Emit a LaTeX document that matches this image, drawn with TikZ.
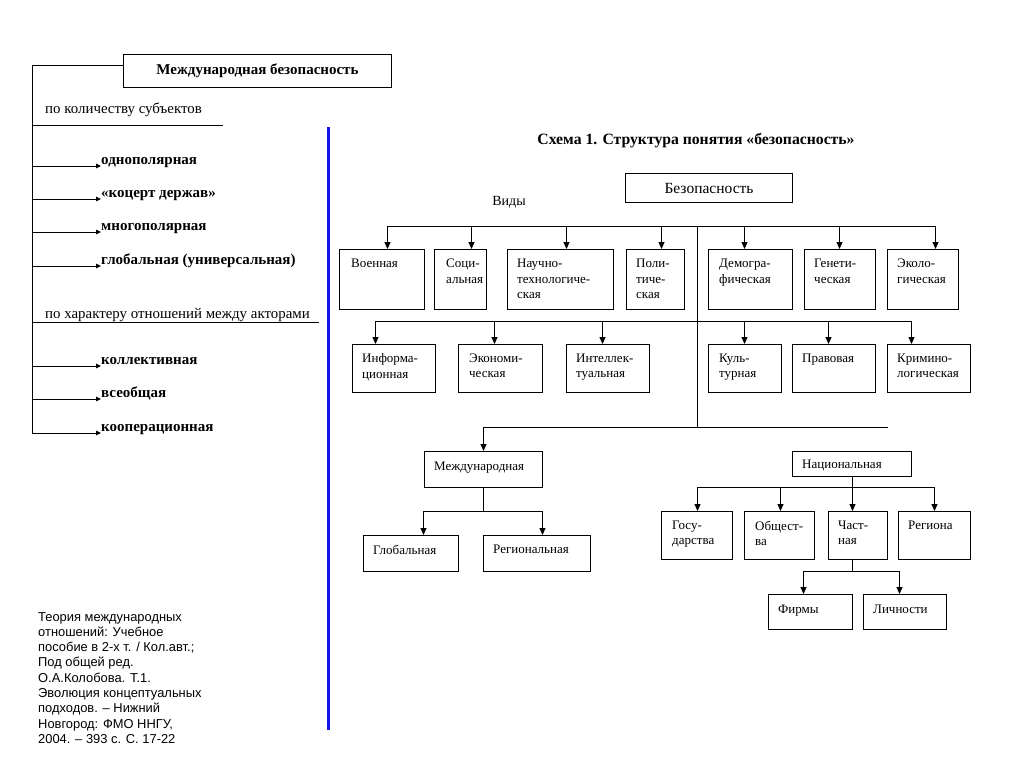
\documentclass[tikz,border=0pt]{standalone}
\usepackage{fontspec}
\setmainfont{Liberation Serif}
\newfontfamily\arialfont{Liberation Sans}
\usetikzlibrary{arrows.meta}
\definecolor{vblue}{RGB}{20,20,235}
\begin{document}
\begin{tikzpicture}[x=1pt,y=-1pt,
  ln/.style={draw=black, line width=1pt},
  bx/.style 2 args={draw=black, line width=1pt, inner sep=0pt, anchor=north west, minimum width=#1, minimum height=#2},
  txt/.style={anchor=north west, inner sep=0pt, align=left, font=\fontsize{13}{15.5}\selectfont},
  arr/.style={line width=1pt, -{Triangle[length=7pt,width=6pt]}},
  larr/.style={line width=1pt, -{Triangle[length=5pt,width=4.5pt]}},
  item/.style={anchor=base west, inner sep=0pt, font=\bfseries\fontsize{15}{17}\selectfont},
  cat/.style={anchor=base west, inner sep=0pt, font=\fontsize{14.9}{17}\selectfont},
]
\useasboundingbox[fill=white] (0,0) rectangle (1024,768);

% ---------------- left part ----------------
\node[bx={268}{33}] (mb) at (123,54) {};
\node[inner sep=0pt, font=\bfseries\fontsize{15}{17}\selectfont] (mbt) at (mb.center) {Международная безопасность};
\coordinate (sp0) at (32,65);
\coordinate (sp1) at (32,433);
\draw[ln] (mb.west |- sp0) -- (sp0) -- (sp1);

\node[cat] (c1) at (45,113) {по количеству субъектов};
\draw[ln] (32,125) -- (223,125);
\node[cat] (c2) at (45,318) {по характеру отношений между акторами};
\draw[ln] (32,322) -- (319,322);

\node[item] (i1) at (101,164) {однополярная};
\node[item] (i2) at (101,197) {«коцерт держав»};
\node[item] (i3) at (101,230) {многополярная};
\node[item] (i4) at (101,264) {глобальная (универсальная)};
\node[item] (i5) at (101,364) {коллективная};
\node[item] (i6) at (101,397) {всеобщая};
\node[item] (i7) at (101,431) {кооперационная};
\foreach \n in {i1,i2,i3,i4,i5,i6,i7}{
  \draw[larr] (\n.base west) ++(-69,2) -- ++(69,0);
}

% blue separator
\draw[draw=vblue, line width=3pt] (328,127) -- (328,730);

% source
\node[anchor=north west, inner sep=0pt, align=left, font=\arialfont\fontsize{12.9}{15.3}\selectfont] (src) at (38,612)
{Теория международных\\отношений: Учебное\\пособие в 2-х т. / Кол.авт.;\\Под общей ред.\\О.А.Колобова. Т.1.\\Эволюция концептуальных\\подходов. – Нижний\\Новгород: ФМО ННГУ,\\2004. – 393 с. С. 17-22};

% ---------------- right part ----------------
\node[inner sep=0pt, font=\bfseries\fontsize{15.7}{18}\selectfont] (title) at (696,141) {Схема 1. Структура понятия «безопасность»};
\node[bx={167}{29}] (bez) at (625,173) {};
\node[inner sep=0pt, font=\fontsize{15.5}{17}\selectfont] (bezt) at (bez.center) {Безопасность};
\node[inner sep=0pt, font=\fontsize{14}{16}\selectfont] (vidy) at (509,202) {Виды};

% bars
\draw[ln] (387,226) -- (935,226);
\draw[ln] (697,226) -- (697,427);
\draw[ln] (375,321) -- (911,321);
\draw[ln] (483,427) -- (888,427);

% row 1
\node[bx={85}{60}]  (voen)  at (339,249) {};
\node[bx={52}{60}]  (soc)   at (434,249) {};
\node[bx={106}{60}] (nauch) at (507,249) {};
\node[bx={58}{60}]  (polit) at (626,249) {};
\node[bx={84}{60}]  (demo)  at (708,249) {};
\node[bx={71}{60}]  (genet) at (804,249) {};
\node[bx={71}{60}]  (ekol)  at (887,249) {};
\node[txt] (voent)  at ([shift={(12,10)}]voen.north west)  {Военная};
\node[txt] (soct)   at ([shift={(12,10)}]soc.north west)   {Соци-\\альная};
\node[txt] (naucht) at ([shift={(10,10)}]nauch.north west) {Научно-\\технологиче-\\ская};
\node[txt] (politt) at ([shift={(10,10)}]polit.north west) {Поли-\\тиче-\\ская};
\node[txt] (demot)  at ([shift={(11,10)}]demo.north west)  {Демогра-\\фическая};
\node[txt] (genett) at ([shift={(10,10)}]genet.north west) {Генети-\\ческая};
\node[txt] (ekolt)  at ([shift={(10,10)}]ekol.north west)  {Эколо-\\гическая};
\draw[arr] (voen.north)  ++(5.5,-23) -- ++(0,23);
\draw[arr] (soc.north)   ++(11,-23)  -- ++(0,23);
\draw[arr] (nauch.north) ++(6,-23)   -- ++(0,23);
\draw[arr] (polit.north) ++(6,-23)   -- ++(0,23);
\draw[arr] (demo.north)  ++(-6,-23)  -- ++(0,23);
\draw[arr] (genet.north) ++(-0.5,-23) -- ++(0,23);
\draw[arr] (ekol.north)  ++(12.5,-23) -- ++(0,23);

% row 2
\node[bx={83}{48}] (inform) at (352,344) {};
\node[bx={84}{48}] (ekon)   at (458,344) {};
\node[bx={83}{48}] (intel)  at (566,344) {};
\node[bx={73}{48}] (kult)   at (708,344) {};
\node[bx={83}{48}] (prav)   at (792,344) {};
\node[bx={83}{48}] (krim)   at (887,344) {};
\node[txt] (informt) at ([shift={(10,9.5)}]inform.north west) {Информа-\\ционная};
\node[txt] (ekont)   at ([shift={(11,9.5)}]ekon.north west)   {Экономи-\\ческая};
\node[txt] (intelt)  at ([shift={(10,9.5)}]intel.north west)  {Интеллек-\\туальная};
\node[txt] (kultt)   at ([shift={(11,9.5)}]kult.north west)   {Куль-\\турная};
\node[txt] (pravt)   at ([shift={(10,9.5)}]prav.north west)   {Правовая};
\node[txt] (krimt)   at ([shift={(10,9.5)}]krim.north west)   {Кримино-\\логическая};
\draw[arr] (inform.north) ++(-18.5,-23) -- ++(0,23);
\draw[arr] (ekon.north)   ++(-6,-23)    -- ++(0,23);
\draw[arr] (intel.north)  ++(-5.5,-23)  -- ++(0,23);
\draw[arr] (kult.north)   ++(-0.5,-23)  -- ++(0,23);
\draw[arr] (prav.north)   ++(-5.5,-23)  -- ++(0,23);
\draw[arr] (krim.north)   ++(-17.5,-23) -- ++(0,23);

% international branch
\node[bx={118}{36}] (mezhd) at (424,451) {};
\node[txt] (mezhdt) at ([shift={(10,10.5)}]mezhd.north west) {Международная};
\draw[arr] (mezhd.north) ++(0,-24) -- ++(0,24);
\node[bx={95}{36}]  (glob)   at (363,535) {};
\node[bx={107}{36}] (region) at (483,535) {};
\node[txt] (globt)   at ([shift={(10,9.5)}]glob.north west)   {Глобальная};
\node[txt] (regiont) at ([shift={(10,9.5)}]region.north west) {Региональная};
\draw[ln] (mezhd.south) -- ++(0,24);
\draw[ln] (423,511) -- (542,511);
\draw[arr] (glob.north)   ++(12.5,-24) -- ++(0,24);
\draw[arr] (region.north) ++(5.5,-24)  -- ++(0,24);

% national branch
\node[bx={119}{25}] (nac) at (792,451) {};
\node[txt] (nact) at ([shift={(10,9)}]nac.north west) {Национальная};
\draw[ln] (nac.south -| 852,0) -- (852,487);
\draw[ln] (697,487) -- (934,487);
\node[bx={71}{48}] (gos)     at (661,511) {};
\node[bx={70}{48}] (obsh)    at (744,511) {};
\node[bx={59}{48}] (chast)   at (828,511) {};
\node[bx={72}{48}] (regiona) at (898,511) {};
\node[txt] (gost)     at ([shift={(11,9.5)}]gos.north west)     {Госу-\\дарства};
\node[txt] (obsht)    at ([shift={(11,9.5)}]obsh.north west)    {Общест-\\ва};
\node[txt] (chastt)   at ([shift={(10,9.5)}]chast.north west)   {Част-\\ная};
\node[txt] (regionat) at ([shift={(10,9.5)}]regiona.north west) {Региона};
\draw[arr] (gos.north)     ++(0.5,-24)  -- ++(0,24);
\draw[arr] (obsh.north)    ++(1,-24)    -- ++(0,24);
\draw[arr] (chast.north)   ++(-5.5,-24) -- ++(0,24);
\draw[arr] (regiona.north) ++(0,-24)    -- ++(0,24);

\node[bx={84}{35}] (firm)  at (768,594) {};
\node[bx={83}{35}] (lichn) at (863,594) {};
\node[txt] (firmt)  at ([shift={(10,10.5)}]firm.north west)  {Фирмы};
\node[txt] (lichnt) at ([shift={(10,10.5)}]lichn.north west) {Личности};
\draw[ln] (chast.south) ++(-5.5,0) -- ++(0,12);
\draw[ln] (803,571) -- (899,571);
\draw[arr] (firm.north)  ++(-7,-23)   -- ++(0,23);
\draw[arr] (lichn.north) ++(-5.5,-23) -- ++(0,23);
\end{tikzpicture}
\end{document}
